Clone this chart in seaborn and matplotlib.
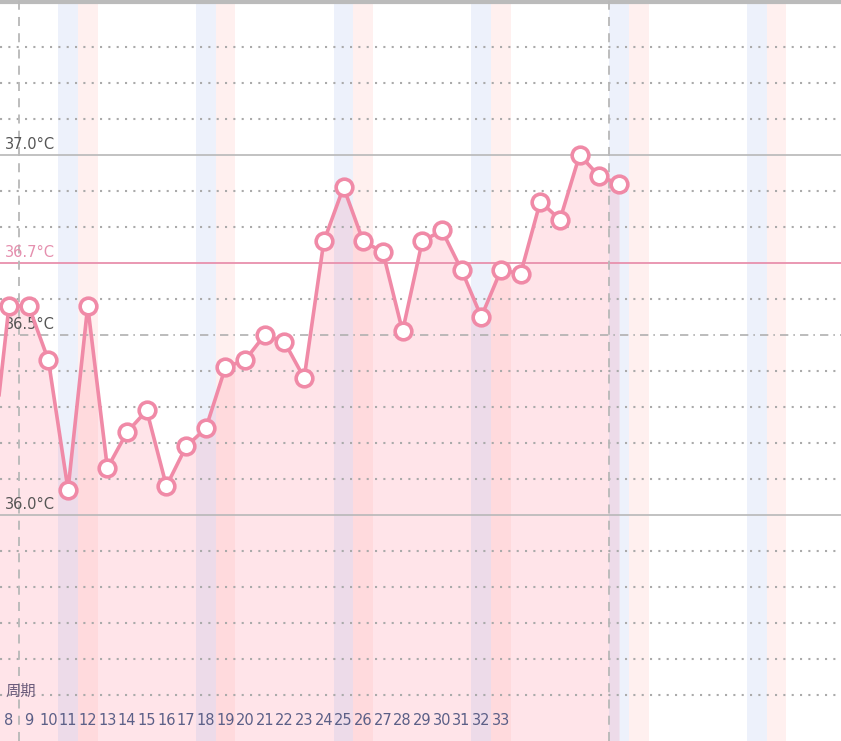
import matplotlib
matplotlib.use('Agg')
import matplotlib.pyplot as plt
import matplotlib.transforms as mtransforms
import seaborn as sns
import pandas as pd

# 基础体温数据
days = list(range(7, 40))
temps = [36.09, 36.58, 36.58, 36.43, 36.07, 36.58, 36.13, 36.23, 36.29, 36.08,
         36.19, 36.24, 36.41, 36.43, 36.50, 36.48, 36.38, 36.76, 36.91, 36.76,
         36.73, 36.51, 36.76, 36.79, 36.68, 36.55, 36.68, 36.67, 36.87, 36.82,
         37.00, 36.94, 36.92]
day_labels = list(range(8, 34))
sat_days = [11, 18, 25, 32, 39, 46]
sun_days = [12, 19, 26, 33, 40, 47]
cycle_marks = [8.5, 38.5]
cover_temp = 36.7

df = pd.DataFrame({'day': days, 'temp': temps})

sns.set_style('white')
plt.rcParams['font.family'] = ['DejaVu Sans']

fig = plt.figure(figsize=(8.41, 7.41), dpi=100)
ax = fig.add_axes([0, 0, 1, 1])
ax.set_xlim(7.543, 50.28)
ax.set_ylim(35.372, 37.43)
ax.axis('off')

# 曲线下方填充
ax.fill_between(df['day'], df['temp'], 35.0, color='#ffe4e9', lw=0, zorder=1)

# 周末色带
for d in sat_days:
    ax.axvspan(d - 0.5, d + 0.5, color='#a5b9eb', alpha=0.2, lw=0, zorder=2)
for d in sun_days:
    ax.axvspan(d - 0.5, d + 0.5, color='#ffb4af', alpha=0.2, lw=0, zorder=2)

# 网格线
for i in range(355, 374):
    t = i / 10
    if abs(t - 37.0) < 1e-6 or abs(t - 36.0) < 1e-6:
        ax.axhline(t, color='#b8b8b8', lw=1.2, zorder=3)
    elif abs(t - 36.5) < 1e-6:
        ax.axhline(t, color='#b0b0b0', lw=1.2, ls=(0, (5, 3, 1, 3)), zorder=3)
    elif abs(t - cover_temp) < 1e-6:
        continue
    else:
        ax.axhline(t, color='#aaaaaa', lw=1.5, ls=(0, (1, 3)), zorder=3)

ax.axhline(cover_temp, color='#e890ad', lw=1.3, zorder=3)
ax.axhline(37.425, color='#bbbbbb', lw=3, zorder=3)

for x in cycle_marks:
    ax.axvline(x, color='#b8b8b8', lw=1.3, ls=(0, (5, 4)), zorder=3)

# 温度标签
trans = mtransforms.blended_transform_factory(ax.transAxes, ax.transData)
for t in [37.0, 36.5, 36.0]:
    ax.text(0.006, t + 0.008, f'{t:.1f}°C', transform=trans, fontsize=10.5,
            color='#555555', va='bottom', ha='left', zorder=4)
ax.text(0.006, cover_temp + 0.008, f'{cover_temp:.1f}°C', transform=trans,
        fontsize=10.5, color='#e58fae', va='bottom', ha='left', zorder=4)

# 体温折线
sns.lineplot(data=df, x='day', y='temp', ax=ax, color='#f08aa7', lw=2.6,
             marker='o', markersize=12, markerfacecolor='white',
             markeredgecolor='#f08aa7', markeredgewidth=2.6, zorder=5)
ax.set_xlim(7.543, 50.28)
ax.set_ylim(35.372, 37.43)

# 周期日期
ax.text(0.006, 35.51, '周期', transform=trans, fontsize=11, color='#6b5b7b',
        va='center', ha='left', family=['Noto Sans CJK SC', 'DejaVu Sans'], zorder=6)
for d in day_labels:
    ax.text(d, 35.428, str(d), fontsize=10.5, color='#5b5f87', va='center',
            ha='center', zorder=6)

fig.savefig('out.png', dpi=100)
